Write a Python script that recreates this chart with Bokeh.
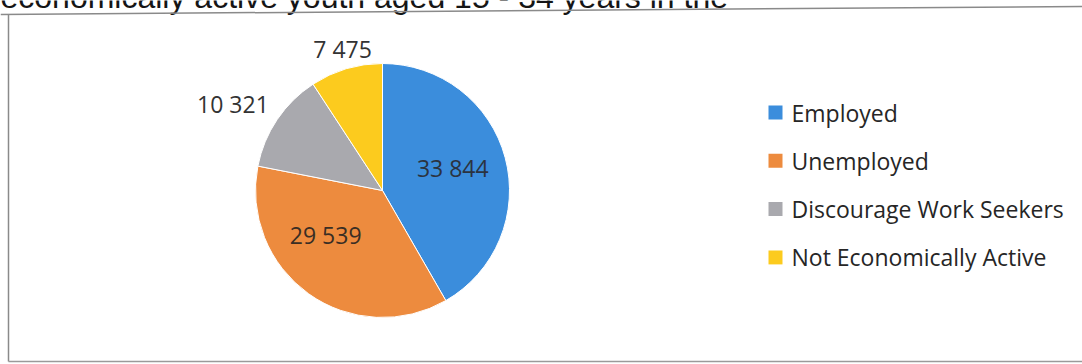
import math
from bokeh.plotting import figure
from bokeh.models import Range1d, ColumnDataSource
from bokeh.core.properties import value
from bokeh.embed import file_html
from bokeh.resources import INLINE

# ---- data ----
categories = ["Employed", "Unemployed", "Discourage Work Seekers", "Not Economically Active"]
counts = [33844, 29539, 10321, 7475]
count_labels = ["33 844", "29 539", "10 321", "7 475"]
colors = ["#3B8DDC", "#ED8B3E", "#A9A9AE", "#FCCB1E"]
heading = "economically active youth aged 15 - 34 years in the"

# ---- style / layout ----
W, H = 1082, 364
CX, CY, R = 382, 174, 127          # pie centre & radius (pixels = data units)
label_angle = [72.5, 231.7, 300.0, 344.3]   # degrees clockwise from 12 o'clock
label_rfrac = [0.58, 0.57, 1.36, 1.16]
label_color = ["#2B3340", "#3A2E24", "#333333", "#333333"]
FONT = value("Open Sans")

p = figure(width=W, height=H, output_backend="svg", toolbar_location=None,
           x_range=Range1d(0, W), y_range=Range1d(0, H),
           min_border=0, outline_line_color=None, background_fill_color="white")
p.axis.visible = False
p.grid.visible = False

# wedges
total = float(sum(counts))
starts, ends = [], []
acc = 0.0
for c in counts:
    a0 = acc / total * 2 * math.pi
    acc += c
    a1 = acc / total * 2 * math.pi
    starts.append(math.pi / 2 - a0)
    ends.append(math.pi / 2 - a1)
src = ColumnDataSource(dict(start=starts, end=ends, color=colors))
p.wedge(x=CX, y=CY, radius=R, start_angle="start", end_angle="end",
        direction="clock", fill_color="color", line_color="white",
        line_width=1, source=src)

# data labels
lx = [CX + R * f * math.sin(math.radians(a)) for a, f in zip(label_angle, label_rfrac)]
ly = [CY + R * f * math.cos(math.radians(a)) for a, f in zip(label_angle, label_rfrac)]
p.text(x=lx, y=ly, text=count_labels, text_font=FONT, text_font_size="23px",
       text_color=label_color, text_align="center", text_baseline="middle")

# legend (manual)
LX, LY0, LDY = 775, 252, 48.3
leg_y = [LY0 - i * LDY for i in range(len(categories))]
p.scatter(x=[LX] * len(categories), y=leg_y, marker="square", size=14,
          fill_color=colors, line_color=None)
p.text(x=[LX + 16] * len(categories), y=leg_y, text=categories, text_font=FONT,
       text_font_size="23px", text_color="#262626", text_align="left",
       text_baseline="middle")

# scanned page frame and cut-off heading
p.text(x=[0], y=[H + 4], text=[heading], text_font=value("Liberation Sans"),
       text_font_size="32px", text_color="#151515", text_align="left",
       text_baseline="alphabetic")
p.line(x=[0, W], y=[H - 14, H - 6], line_color="#8A8A8A", line_width=1.5)
p.line(x=[8, 8], y=[3, H - 14], line_color="#8A8A8A", line_width=1.5)
p.line(x=[8, W], y=[3, 3], line_color="#9A9A9A", line_width=1.5)

open("out.html", "w").write(file_html(p, INLINE))
